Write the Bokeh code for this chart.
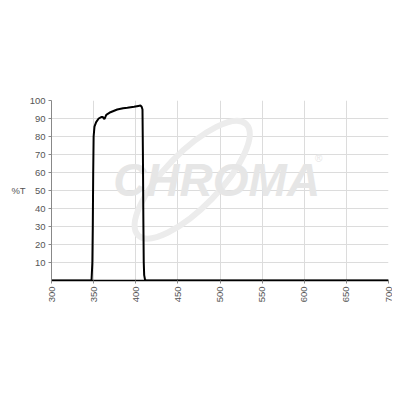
from bokeh.plotting import figure
from bokeh.embed import file_html
from bokeh.resources import INLINE
from bokeh.models import Range1d, FixedTicker
from bokeh.core.properties import value
import math

wavelength = [300, 347.5, 348.5, 349, 349.5, 350, 351, 353, 356, 359, 361, 362, 363, 365,
              370, 378, 385, 390, 398, 403, 405.5, 407, 408, 408.5, 409, 409.5,
              410, 411, 412, 700]
transmission = [0, 0, 10, 30, 60, 80, 85.5, 88, 90, 90.8, 90.8, 90, 89.8, 92,
                93.5, 95, 95.7, 96, 96.5, 97, 97.2, 96.5, 95, 70, 35, 10,
                3, 0.5, 0, 0]
x_ticks = [300, 350, 400, 450, 500, 550, 600, 650, 700]
y_ticks = [10, 20, 30, 40, 50, 60, 70, 80, 90, 100]

p = figure(width=392, height=392, output_backend="svg", toolbar_location=None,
           x_range=Range1d(300, 700), y_range=Range1d(0, 100),
           frame_width=337, frame_height=180,
           min_border_left=51, min_border_right=4, min_border_top=100, min_border_bottom=10)
p.outline_line_color = None
p.background_fill_color = "white"

font = "Liberation Sans"
p.xaxis.ticker = FixedTicker(ticks=x_ticks)
p.yaxis.ticker = FixedTicker(ticks=y_ticks)
p.xaxis.major_label_orientation = math.pi / 2
for ax in (p.xaxis, p.yaxis):
    ax.major_label_text_font = font
    ax.major_label_text_font_size = "9.5px"
    ax.major_label_text_color = "#555555"
    ax.minor_tick_line_color = None
    ax.major_tick_in = 0
    ax.major_tick_out = 3
    ax.major_tick_line_color = "#888888"
    ax.major_label_standoff = 3
p.yaxis.axis_line_color = "#888888"
p.xaxis.axis_line_color = "#000000"
p.xaxis.axis_line_width = 1.5
p.yaxis.axis_label = "%T"
p.yaxis.axis_label_orientation = "horizontal"
p.yaxis.axis_label_text_font = font
p.yaxis.axis_label_text_font_size = "9.5px"
p.yaxis.axis_label_text_font_style = "normal"
p.yaxis.axis_label_text_color = "#555555"
p.yaxis.axis_label_standoff = 1

p.xgrid.grid_line_color = "#dcdcdc"
p.ygrid.grid_line_color = "#dcdcdc"
p.xgrid.ticker = FixedTicker(ticks=x_ticks)
p.ygrid.ticker = FixedTicker(ticks=y_ticks)

# watermark
p.ellipse(x=[467], y=[56], width=[155], height=[55], width_units="screen", height_units="screen",
          angle=[0.8], fill_color=None, line_color="#ececec", line_width=6)
p.text(x=[496], y=[56], text=["CHROMA"], text_font=value("Liberation Sans"),
       text_font_style="bold italic", text_font_size="46px", text_color="#e6e6e6",
       text_align="center", text_baseline="middle")
p.text(x=[617], y=[68], text=["®"], text_font=value("Liberation Sans"),
       text_font_size="10px", text_color="#e6e6e6", text_align="center", text_baseline="middle")

p.line(wavelength, transmission, line_color="black", line_width=2)

open("out.html", "w").write(file_html(p, INLINE))
